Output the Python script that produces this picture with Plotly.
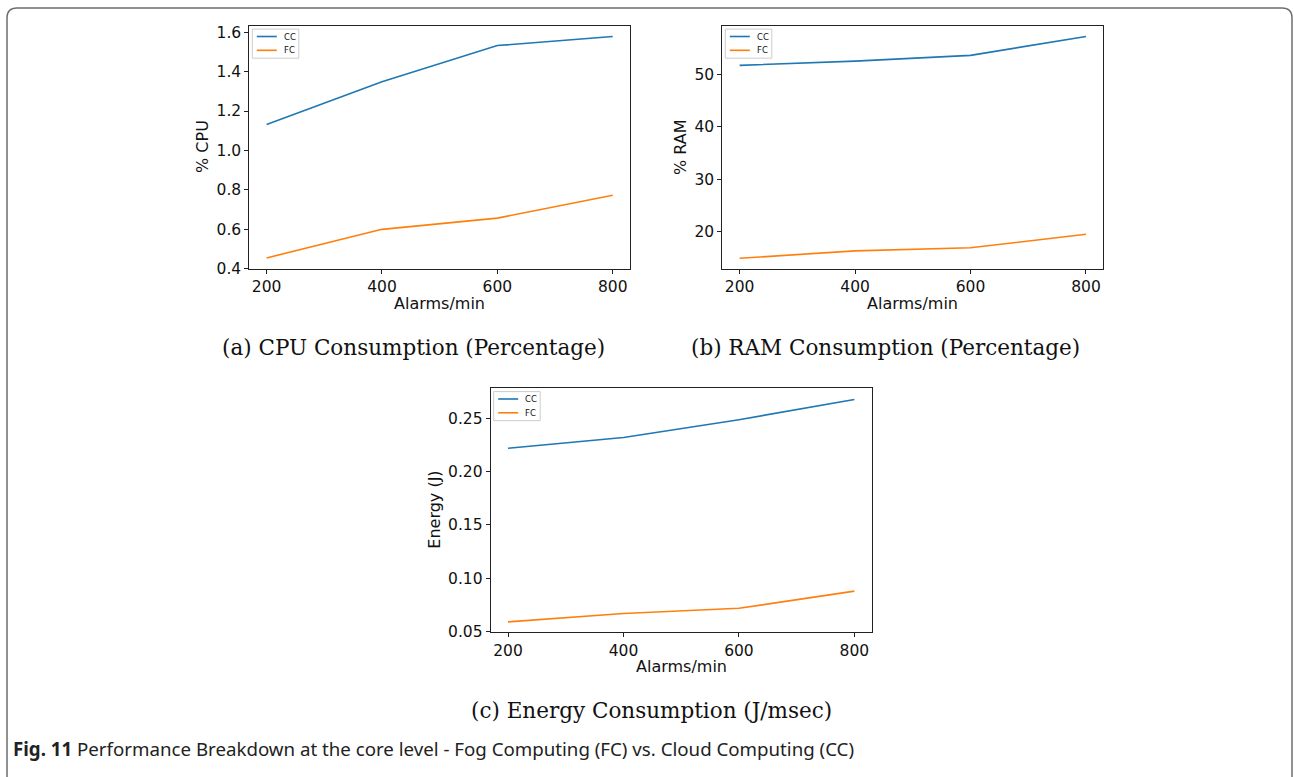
import plotly.graph_objects as go

W, H = 1294, 777

alarms = [200, 400, 600, 800]
cpu_cc = [1.132, 1.348, 1.532, 1.578]
cpu_fc = [0.455, 0.600, 0.657, 0.773]
ram_cc = [51.7, 52.5, 53.6, 57.2]
ram_fc = [15.0, 16.4, 17.0, 19.55]
energy_cc = [0.2219, 0.2320, 0.2487, 0.2676]
energy_fc = [0.0589, 0.0667, 0.0716, 0.0877]

series_names = ["CC", "FC"]
cpu_ticks = [0.4, 0.6, 0.8, 1.0, 1.2, 1.4, 1.6]
ram_ticks = [20, 30, 40, 50]
energy_ticks = [0.05, 0.10, 0.15, 0.20, 0.25]
x_ticks = [200, 400, 600, 800]

C_BLUE = "#1f77b4"
C_ORANGE = "#ff7f0e"
colors = [C_BLUE, C_ORANGE]


def px(x):
    return x / W


def py(y):
    return 1 - y / H


fig = go.Figure()

panels = [
    ("x", "y", [cpu_cc, cpu_fc], (249.3, 630.0), (24.0, 270.7), [0.3995, 1.633], cpu_ticks, ".1f"),
    ("x2", "y2", [ram_cc, ram_fc], (722.3, 1103.3), (24.0, 270.7), [12.98, 59.25], ram_ticks, "d"),
    ("x3", "y3", [energy_cc, energy_fc], (490.7, 871.7), (391.7, 639.0), [0.0494, 0.2783], energy_ticks, ".2f"),
]

tick_font = dict(family="DejaVu Sans", size=15.5, color="#111")
layout_axes = {}
shapes = []
ann = []
for i, (xa, ya, vals, xr, yr, yrange, yt, fmt) in enumerate(panels):
    for name, v, c in zip(series_names, vals, colors):
        fig.add_trace(go.Scatter(x=alarms, y=v, mode="lines", name=name,
                                 line=dict(color=c, width=1.6),
                                 xaxis=xa, yaxis=ya, showlegend=False))
    suffix = "" if i == 0 else str(i + 1)
    common = dict(showline=True, mirror=True, linecolor="#222", linewidth=1,
                  ticks="outside", ticklen=4, tickcolor="#222", showgrid=False,
                  zeroline=False, tickfont=tick_font)
    layout_axes["xaxis" + suffix] = dict(
        domain=[px(xr[0]), px(xr[1])], range=[170, 830], tickvals=x_ticks,
        anchor="y" + suffix, **common)
    layout_axes["yaxis" + suffix] = dict(
        domain=[py(yr[1]), py(yr[0])], range=yrange, tickvals=yt, tickformat=fmt,
        anchor="x" + suffix, **common)

    # small legend box in the upper-left corner of each panel
    lx, ly = xr[0], yr[0]
    shapes.append(dict(type="rect", xref="paper", yref="paper",
                       x0=px(lx + 3), x1=px(lx + 49.5), y0=py(ly + 33), y1=py(ly + 3.5),
                       line=dict(color="#cccccc", width=1), fillcolor="rgba(255,255,255,0.8)"))
    for k, (name, c) in enumerate(zip(series_names, colors)):
        yy = ly + 11 + k * 14
        shapes.append(dict(type="line", xref="paper", yref="paper",
                           x0=px(lx + 7.5), x1=px(lx + 27.5), y0=py(yy), y1=py(yy),
                           line=dict(color=c, width=1.6)))
        ann.append(dict(x=px(lx + 32.5), y=py(yy), xref="paper", yref="paper", text=name,
                        showarrow=False, xanchor="left", yanchor="middle",
                        font=dict(family="DejaVu Sans", size=8.5, color="#111")))

fig.update_layout(**layout_axes)

axis_font = dict(family="DejaVu Sans", size=16, color="#111")
for (cx, cy, text, ang) in [
    (439.6, 306, "Alarms/min", 0), (203, 147, "% CPU", -90),
    (912.8, 306, "Alarms/min", 0), (681, 147, "% RAM", -90),
    (681.2, 674, "Alarms/min", 0), (435, 515, "Energy (J)", -90),
]:
    ann.append(dict(x=px(cx), y=py(cy), xref="paper", yref="paper", text=text,
                    showarrow=False, textangle=ang, font=axis_font,
                    xanchor="center", yanchor="middle"))

serif = dict(family="DejaVu Serif, Liberation Serif, serif", size=21.5, color="#111")
for (cx, cy, text) in [
    (413, 350, "(a) CPU Consumption (Percentage)"),
    (885, 350, "(b) RAM Consumption (Percentage)"),
    (651, 719, "(c) Energy Consumption (J/msec)"),
]:
    ann.append(dict(x=px(cx), y=py(cy), xref="paper", yref="paper", text=text,
                    showarrow=False, font=serif, xanchor="center", yanchor="middle"))

ann.append(dict(x=px(11), y=py(757), xref="paper", yref="paper",
                text="<b>Fig. 11</b> Performance Breakdown at the core level - Fog Computing (FC) vs. Cloud Computing (CC)",
                showarrow=False, xanchor="left", yanchor="middle",
                font=dict(family="Noto Sans, sans-serif", size=18.7, color="#222")))

# page border with rounded top corners
path = (f"M {px(7)},{py(790)} L {px(7)},{py(16)} Q {px(7)},{py(6)} {px(17)},{py(6)} "
        f"L {px(1282)},{py(6)} Q {px(1292)},{py(6)} {px(1292)},{py(16)} L {px(1292)},{py(790)}")
shapes.insert(0, dict(type="path", path=path, xref="paper", yref="paper",
                      line=dict(color="#6e6e6e", width=1.5)))

fig.update_layout(annotations=ann, shapes=shapes)
fig.update_layout(width=W, height=H, margin=dict(l=0, r=0, t=0, b=0),
                  paper_bgcolor="white", plot_bgcolor="white", showlegend=False)

fig.write_html("out.html", config={"displayModeBar": False},
               post_script="document.body.style.margin='0';document.body.style.overflow='hidden';")
